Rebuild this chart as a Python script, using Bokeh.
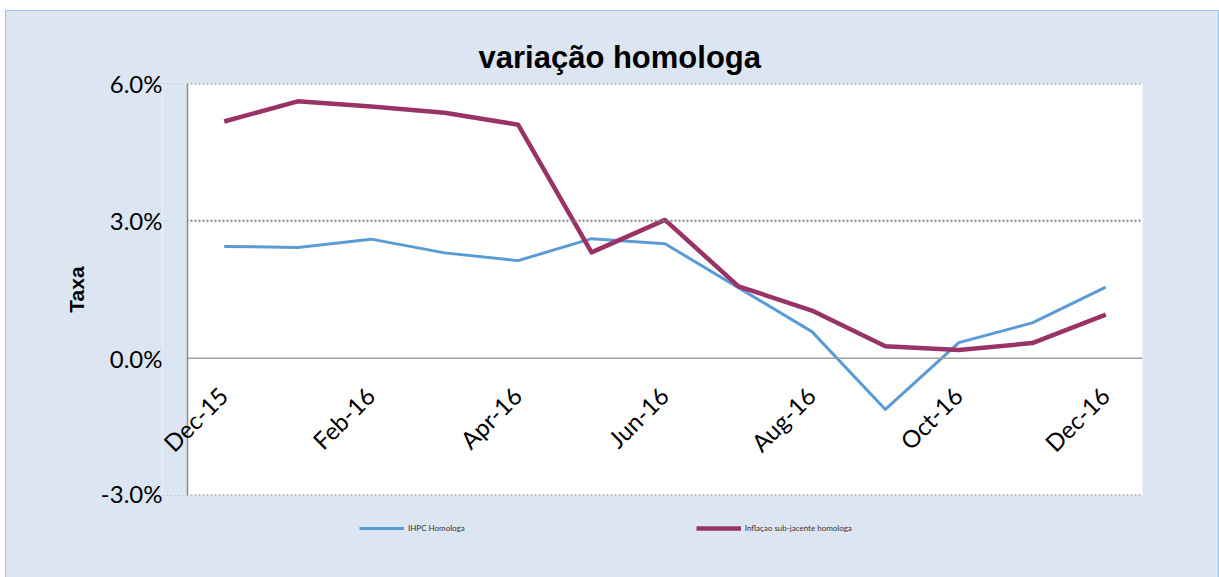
import math
from bokeh.plotting import figure
from bokeh.layouts import column
from bokeh.models import (Range1d, FixedTicker, Span, Legend, LegendItem,
                          ColumnDataSource, Title, LabelSet, BoxAnnotation)
from bokeh.core.properties import value
from bokeh.embed import file_html
from bokeh.resources import INLINE

# ---- data ----
months = ["Dec-15", "Jan-16", "Feb-16", "Mar-16", "Apr-16", "May-16", "Jun-16",
          "Jul-16", "Aug-16", "Sep-16", "Oct-16", "Nov-16", "Dec-16"]
ihpc = [2.44, 2.42, 2.60, 2.30, 2.13, 2.61, 2.50, 1.54, 0.58, -1.12, 0.34, 0.77, 1.55]
subjacente = [5.17, 5.61, 5.50, 5.36, 5.10, 2.31, 3.02, 1.57, 1.04, 0.26, 0.18, 0.33, 0.95]
y_ticks = [-3, 0, 3, 6]
y_tick_labels = ["-3.0%", "0.0%", "3.0%", "6.0%"]
series_names = ["IHPC Homologa", "Inflaçao sub-jacente homologa"]
title_text = "variação homologa"
y_label = "Taxa"

BLUE = "#5b9bd5"
PLUM = "#993366"
BG = "#dce6f2"
GRID = "#808080"
AXIS = "#8c8c8c"

x_idx = list(range(len(months)))
n = len(months)
# plot area is 955 px wide for n categories; frame is extended 25 px to the left
left_pad = 25 / (955 / n)
x_start = -0.5

p = figure(width=1212, height=496, output_backend="svg", toolbar_location=None,
           x_range=Range1d(x_start - left_pad, n - 0.5), y_range=Range1d(-3, 6),
           min_border_left=156, min_border_right=76, min_border_top=72,
           min_border_bottom=12)
p.border_fill_color = BG
p.background_fill_color = "white"
p.outline_line_color = None

# title
p.title = Title(text=title_text, align="left", offset=316,
                text_font="Liberation Sans", text_font_size="31px",
                text_font_style="bold", text_color="black", standoff=18)

# axes
p.xaxis.visible = False
yax = p.yaxis[0]
yax.ticker = FixedTicker(ticks=y_ticks)
yax.major_label_overrides = {t: l for t, l in zip(y_ticks, y_tick_labels)}
yax.major_label_text_font = "Lato"
yax.major_label_text_font_size = "24px"
yax.major_label_text_color = "black"
yax.major_tick_out = 0
yax.major_tick_in = 0
yax.minor_tick_out = 0
yax.minor_tick_in = 0
yax.major_label_standoff = 0
yax.axis_line_color = None
yax.axis_label = y_label
yax.axis_label_text_font = "Liberation Sans"
yax.axis_label_text_font_style = "bold"
yax.axis_label_text_font_size = "21px"
yax.axis_label_text_color = "black"
yax.axis_label_standoff = 10

# grid: dotted lines at non-zero ticks, solid line at 0
p.xgrid.visible = False
p.ygrid.visible = False
for t in y_ticks:
    if t == 0:
        p.add_layout(Span(location=t, dimension="width", line_color="#a0a0a0",
                          line_width=1.5))
    else:
        p.add_layout(Span(location=t, dimension="width", line_color=GRID,
                          line_width=2, line_dash="2 2"))
# strip left of the plot area keeps the chart background
p.add_layout(BoxAnnotation(right=x_start, fill_color=BG, fill_alpha=1,
                           line_color=None))
# vertical axis line at the plot-area edge
p.add_layout(Span(location=x_start, dimension="height", line_color=AXIS,
                  line_width=1.5))

# lines
src = ColumnDataSource(dict(x=x_idx, ihpc=ihpc, sub=subjacente))
r1 = p.line("x", "ihpc", source=src, line_color=BLUE, line_width=3, line_join="round")
r2 = p.line("x", "sub", source=src, line_color=PLUM, line_width=4.5, line_join="round")

# category labels (every second month) next to the 0 line
lab_src = ColumnDataSource(dict(x=x_idx[::2], y=[0] * len(x_idx[::2]), t=months[::2]))
p.add_layout(LabelSet(x="x", y="y", text="t", source=lab_src, angle=math.pi / 4,
                      text_align="right", text_baseline="middle", x_offset=-1,
                      y_offset=-33, text_font=value("Lato"),
                      text_font_size=value("24px"), text_color=value("black")))

# legend strip below the chart (series drawn out of view, only for the legend)
p2 = figure(width=1212, height=70, output_backend="svg", toolbar_location=None,
            x_range=Range1d(0, n), y_range=Range1d(100, 101), min_border=0)
p2.border_fill_color = BG
p2.background_fill_color = BG
p2.background_fill_alpha = 0
p2.outline_line_color = None
p2.axis.visible = False
p2.grid.visible = False
l1 = p2.line("x", "ihpc", source=src, line_color=BLUE, line_width=3)
l2 = p2.line("x", "sub", source=src, line_color=PLUM, line_width=4.5)
legend = Legend(items=[LegendItem(label=series_names[0], renderers=[l1]),
                       LegendItem(label=series_names[1], renderers=[l2])],
                orientation="horizontal", location=(197, 42),
                label_text_font="Lato", label_text_font_size="8px",
                label_text_color="#333333",
                label_standoff=4, glyph_width=45, glyph_height=14,
                label_height=14, spacing=231, padding=0, margin=0,
                background_fill_alpha=0, border_line_color=None)
p2.add_layout(legend, "center")

layout = column(p, p2, spacing=0,
                styles={"margin-left": "5px", "margin-top": "10px",
                        "background-color": BG,
                        "border-left": "1px solid #9dc3e6",
                        "border-top": "1px solid #9dc3e6",
                        "border-right": "1px solid #9dc3e6"})

open("out.html", "w").write(file_html(layout, INLINE))
